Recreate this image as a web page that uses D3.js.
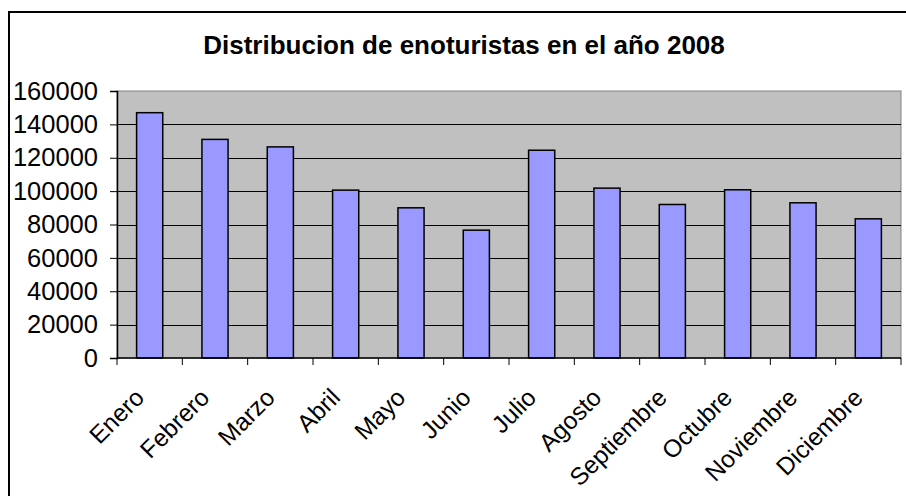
<!DOCTYPE html>
<html>
<head>
<meta charset="utf-8">
<script src="https://cdn.jsdelivr.net/npm/d3@7"></script>
<style>
  body { margin: 0; background: #fff; }
  svg text { font-family: "Liberation Sans", Arial, sans-serif; fill: #000; }
</style>
</head>
<body>
<svg id="chart"></svg>
<script>
// data
var months = ["Enero", "Febrero", "Marzo", "Abril", "Mayo", "Junio", "Julio",
              "Agosto", "Septiembre", "Octubre", "Noviembre", "Diciembre"];
var visitors = [147000, 131000, 126500, 100600, 90000, 76600, 124500,
                101800, 92000, 100800, 93000, 83400];
var yTicks = [0, 20000, 40000, 60000, 80000, 100000, 120000, 140000, 160000];
var title = "Distribucion de enoturistas en el año 2008";

var width = 906, height = 496;
var plotLeft = 117, plotRight = 901, plotTop = 91, plotBottom = 358;

var svg = d3.select("#chart")
    .attr("width", width)
    .attr("height", height);

// outer frame (runs off the right and bottom of the picture)
svg.append("rect")
    .attr("x", 9).attr("y", 12)
    .attr("width", width).attr("height", height)
    .attr("fill", "#fff")
    .attr("stroke", "#000")
    .attr("stroke-width", 2);

var xScale = d3.scaleBand()
    .domain(months)
    .range([plotLeft, plotRight])
    .paddingInner(0.6)
    .paddingOuter(0.3);

var yScale = d3.scaleLinear()
    .domain([0, 160000])
    .range([plotBottom, plotTop]);

// plot area
svg.append("rect")
    .attr("x", plotLeft).attr("y", plotTop)
    .attr("width", plotRight - plotLeft)
    .attr("height", plotBottom - plotTop)
    .attr("fill", "#c0c0c0")
    .attr("stroke", "#808080")
    .attr("stroke-width", 1);

// gridlines
svg.append("g").selectAll("line")
    .data(yTicks.filter(function (d) { return d > 0 && d < 160000; }))
    .enter().append("line")
    .attr("x1", plotLeft).attr("x2", plotRight)
    .attr("y1", function (d) { return Math.round(yScale(d)) + 0.5; })
    .attr("y2", function (d) { return Math.round(yScale(d)) + 0.5; })
    .attr("stroke", "#000")
    .attr("stroke-width", 1);

// bars
svg.append("g").selectAll("rect")
    .data(months)
    .enter().append("rect")
    .attr("x", function (d) { return xScale(d); })
    .attr("y", function (d, i) { return yScale(visitors[i]); })
    .attr("width", xScale.bandwidth())
    .attr("height", function (d, i) { return plotBottom - yScale(visitors[i]); })
    .attr("fill", "#9999ff")
    .attr("stroke", "#000")
    .attr("stroke-width", 1.5);

// y axis
var yAxis = d3.axisLeft(yScale)
    .tickValues(yTicks)
    .tickSize(7)
    .tickPadding(12)
    .tickFormat(d3.format("d"));

svg.append("g")
    .attr("transform", "translate(" + plotLeft + ",0)")
    .call(yAxis)
    .call(function (g) {
        g.select(".domain").attr("stroke", "#000").attr("stroke-width", 1.5);
        g.selectAll(".tick line").attr("stroke", "#000");
        g.selectAll("text")
            .attr("font-size", 25.5)
            .attr("font-family", "Liberation Sans, Arial, sans-serif")
            .attr("fill", "#000");
    });

// x axis: ticks sit between categories, like Excel
var step = xScale.step();
var bounds = months.map(function (m) {
    return xScale(m) - (step - xScale.bandwidth()) / 2;
});
bounds.push(plotRight);

var xAxis = svg.append("g");
xAxis.append("line")
    .attr("x1", plotLeft).attr("x2", plotRight)
    .attr("y1", plotBottom).attr("y2", plotBottom)
    .attr("stroke", "#000")
    .attr("stroke-width", 1.5);
xAxis.selectAll(".xtick")
    .data(bounds)
    .enter().append("line")
    .attr("class", "xtick")
    .attr("x1", function (d) { return d; })
    .attr("x2", function (d) { return d; })
    .attr("y1", plotBottom).attr("y2", plotBottom + 7)
    .attr("stroke", "#000");

xAxis.selectAll("text")
    .data(months)
    .enter().append("text")
    .attr("text-anchor", "end")
    .attr("font-size", 24.5)
    .attr("transform", function (d) {
        var cx = xScale(d) + xScale.bandwidth() / 2 - 4;
        return "translate(" + cx + ",399) rotate(-45)";
    })
    .text(function (d) { return d; });

// title
svg.append("text")
    .attr("x", 464)
    .attr("y", 54)
    .attr("text-anchor", "middle")
    .attr("font-size", 26)
    .attr("font-weight", "bold")
    .text(title);
</script>
</body>
</html>
